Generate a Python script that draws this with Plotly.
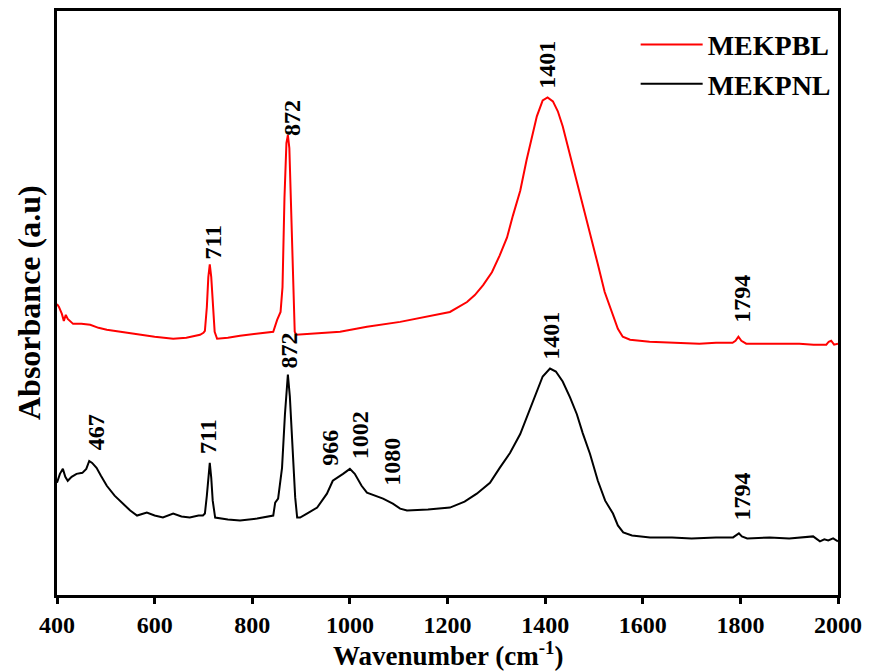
import plotly.graph_objects as go

# MEKPBL (red) spectrum: wavenumber (cm-1) and absorbance (a.u.)
pbl_wn = [400, 404, 410, 414, 418, 422, 433, 450, 468, 485, 502, 530, 570, 600, 638, 665, 693, 700,
          703, 707, 710, 713, 716, 719, 723, 728, 750, 775, 810, 843, 851, 858, 862, 866, 870, 873,
          876, 880, 884, 887, 890, 912, 950, 980, 1035, 1103, 1158, 1205, 1240, 1256, 1273, 1291,
          1307, 1322, 1334, 1349, 1362, 1373, 1383, 1395, 1405, 1416, 1426, 1436, 1450, 1465,
          1477, 1491, 1508, 1522, 1538, 1549, 1559, 1574, 1614, 1660, 1716, 1750,
          1784, 1790, 1796, 1802, 1812, 1860, 1921, 1950, 1976, 1981, 1986, 1992, 2000]
pbl_ab = [293, 290, 283, 276, 282, 278, 273, 273, 272, 269, 267, 265, 262, 260, 258, 259, 262, 264,
          266, 290, 320, 333, 320, 290, 265, 258, 259, 261, 263, 265, 277, 285, 310, 400, 455, 463,
          450, 380, 300, 265, 262, 263, 264, 265, 270, 275, 280, 285, 295, 302, 312, 325,
          342, 360, 382, 407, 438, 462, 482, 498, 501, 497, 487, 472, 445, 418,
          395, 365, 333, 305, 282, 268, 260, 257, 255, 254, 253, 254,
          254, 256, 260, 256, 253, 253, 253, 252, 252, 255, 256, 252, 253]

# MEKPNL (black) spectrum
pnl_wn = [400, 406, 412, 417, 422, 430, 440, 452, 460, 466, 472, 481, 490, 502, 518, 535, 550, 564,
          584, 600, 617, 638, 655, 672, 690, 699, 703, 707, 710, 713, 716, 719, 724, 750, 775, 810,
          843, 847, 853, 861, 867, 873, 877, 881, 888, 892, 898, 912, 933, 953, 965, 986, 1000,
          1010, 1024, 1035, 1050, 1068, 1088, 1103, 1117, 1160, 1205, 1235, 1260, 1287, 1307,
          1328, 1349, 1365, 1383, 1395, 1410, 1422, 1436, 1451, 1465, 1477, 1492, 1508, 1523,
          1539, 1549, 1560, 1578, 1615, 1660, 1700, 1750, 1785, 1791, 1797, 1803, 1814, 1860,
          1900, 1949, 1955, 1963, 1972, 1980, 1990, 2000]
pnl_ab = [113, 122, 127, 119, 115, 119, 122, 123, 127, 135, 133, 128, 120, 110, 100, 92, 85, 80,
          83, 80, 78, 82, 79, 78, 80, 80, 82, 100, 122, 133, 118, 95, 78, 76, 75, 77,
          80, 93, 97, 128, 182, 222, 200, 165, 98, 78, 78, 82, 88, 102, 115, 122, 127,
          122, 110, 103, 100, 97, 92, 87, 85, 86, 88, 94, 102, 113, 128,
          143, 162, 182, 205, 220, 228, 225, 215, 199, 182, 163, 142, 115, 95,
          82, 70, 63, 60, 58, 58, 57, 58, 58, 60, 62, 59, 57, 58,
          57, 59, 57, 54, 56, 55, 57, 54, 56]

# Peak labels
pbl_labels = ["711", "872", "1401", "1794"]
pbl_label_x = [720, 883, 1404, 1803]
pbl_label_y = [355, 480, 534, 298]
pnl_labels = ["467", "711", "872", "966", "1002", "1080", "1401", "1794"]
pnl_label_x = [480, 709, 875, 959, 1021, 1086, 1412, 1803]
pnl_label_y = [164, 160, 246, 148, 161, 134, 261, 99]

x_ticks = [400, 600, 800, 1000, 1200, 1400, 1600, 1800, 2000]

FONT = "Liberation Serif"

fig = go.Figure()
fig.add_trace(go.Scatter(x=pbl_wn, y=pbl_ab, mode="lines", name="MEKPBL",
                         line=dict(color="#ff0000", width=2)))
fig.add_trace(go.Scatter(x=pnl_wn, y=pnl_ab, mode="lines", name="MEKPNL",
                         line=dict(color="#000000", width=2)))

annotations = []
for t, x, y in zip(pbl_labels + pnl_labels, pbl_label_x + pnl_label_x, pbl_label_y + pnl_label_y):
    annotations.append(dict(text=t, x=x, y=y, xref="x", yref="y", showarrow=False,
                            textangle=-90, font=dict(family=FONT, size=24, color="black", weight="bold"),
                            xanchor="center", yanchor="middle"))

annotations.append(dict(text="Wavenumber (cm<sup>-1</sup>)", x=0.5, y=0,
                        xref="paper", yref="paper", showarrow=False, yanchor="middle",
                        yshift=-59, font=dict(family=FONT, size=27, color="black", weight="bold")))
annotations.append(dict(text="Absorbance (a.u)", x=0, y=0.5, xref="paper", yref="paper",
                        showarrow=False, textangle=-90, xanchor="center", xshift=-28,
                        font=dict(family=FONT, size=32, color="black", weight="bold")))

fig.update_layout(
    width=863, height=664,
    margin=dict(l=49, r=33, t=0, b=77),
    plot_bgcolor="white", paper_bgcolor="white",
    showlegend=True,
    legend=dict(x=0.997, y=0.985, xanchor="right", yanchor="top", bgcolor="rgba(0,0,0,0)",
                font=dict(family=FONT, size=28, color="black", weight="bold"),
                itemwidth=62, tracegroupgap=0),
    annotations=annotations,
)
fig.update_xaxes(range=[400, 2000], tickvals=x_ticks, ticks="outside", ticklen=6, tickwidth=3,
                 tickcolor="black", showline=True, linecolor="black", linewidth=3, mirror=True,
                 showgrid=False, zeroline=False,
                 tickfont=dict(family=FONT, size=24, color="black", weight="bold"))
fig.update_yaxes(range=[0, 588], showticklabels=False, ticks="", showline=True,
                 linecolor="black", linewidth=3, mirror=True, showgrid=False, zeroline=False)

fig.write_html("out.html")
